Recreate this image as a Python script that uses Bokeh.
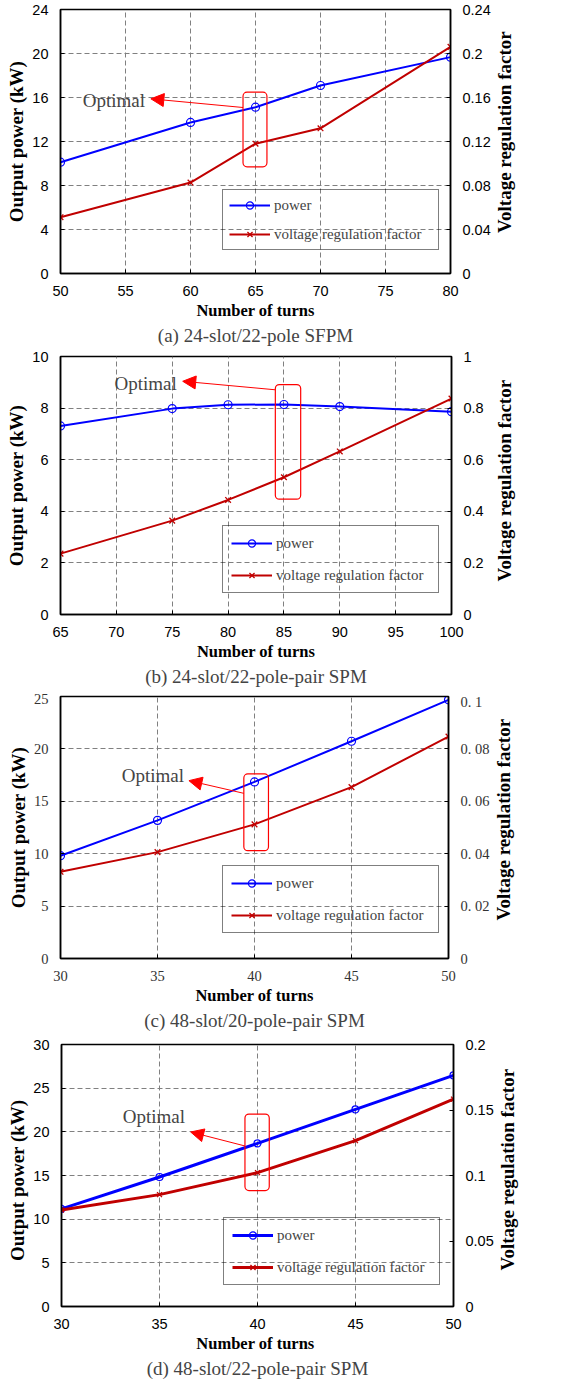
import math
from bokeh.plotting import figure
from bokeh.models import (Range1d, LinearAxis, FixedTicker, Legend, LegendItem,
                          Arrow, NormalHead, Label, Title)
from bokeh.core.properties import value
from bokeh.layouts import column, row
from bokeh.embed import file_html
from bokeh.resources import INLINE

# ---------------- data ----------------
turns_a = [50, 60, 65, 70, 80]
power_a = [10.12, 13.73, 15.12, 17.09, 19.67]
vrf_a = [0.0512, 0.0827, 0.118, 0.132, 0.206]
optimal_a = 65

turns_b = [65, 75, 80, 85, 90, 100]
power_b = [7.31, 7.98, 8.13, 8.14, 8.06, 7.86]
vrf_b = [0.236, 0.364, 0.444, 0.532, 0.632, 0.837]
optimal_b = 85

turns_c = [30, 35, 40, 45, 50]
power_c = [9.81, 13.18, 16.85, 20.73, 24.68]
vrf_c = [0.0331, 0.0406, 0.0512, 0.0654, 0.0847]
optimal_c = 40

turns_d = [30, 35, 40, 45, 50]
power_d = [11.17, 14.83, 18.68, 22.57, 26.46]
vrf_d = [0.0737, 0.0854, 0.1022, 0.1266, 0.1583]
optimal_d = 40

# tick values / labels
x_ticks_a = [50, 55, 60, 65, 70, 75, 80]
y_ticks_a = [0, 4, 8, 12, 16, 20, 24]
r_ticks_a = [0, 0.04, 0.08, 0.12, 0.16, 0.2, 0.24]
r_labels_a = ["0", "0.04", "0.08", "0.12", "0.16", "0.2", "0.24"]

x_ticks_b = [65, 70, 75, 80, 85, 90, 95, 100]
y_ticks_b = [0, 2, 4, 6, 8, 10]
r_ticks_b = [0, 0.2, 0.4, 0.6, 0.8, 1]
r_labels_b = ["0", "0.2", "0.4", "0.6", "0.8", "1"]

x_ticks_c = [30, 35, 40, 45, 50]
y_ticks_c = [0, 5, 10, 15, 20, 25]
r_ticks_c = [0, 0.02, 0.04, 0.06, 0.08, 0.1]
r_labels_c = ["0", "0. 02", "0. 04", "0. 06", "0. 08", "0. 1"]

x_ticks_d = [30, 35, 40, 45, 50]
y_ticks_d = [0, 5, 10, 15, 20, 25, 30]
r_ticks_d = [0, 0.05, 0.1, 0.15, 0.2]
r_labels_d = ["0", "0.05", "0.1", "0.15", "0.2"]

captions = ["(a) 24-slot/22-pole SFPM",
            "(b) 24-slot/22-pole-pair SPM",
            "(c) 48-slot/20-pole-pair SPM",
            "(d) 48-slot/22-pole-pair SPM"]
legend_labels = ["power", "voltage regulation factor"]

BLUE = "#0000ff"
RED = "#c00000"
SERIF = "Liberation Serif"
SANS = "Liberation Sans"
PAGE_W = 587
RIGHT_BORDER = 42
YLABEL_SIZE = "19px"


def make_panel(turns, power, vrf, optimal, xt, yt, rt, rl, caption,
               frame_w, frame_h, left, top, bottom,
               tick_font, tick_color, xlabel, ylabel, rlabel, rlabel_y,
               box_dx, box_y, arrow_start_y, arrow_end, text_pos,
               leg_loc, leg_pad, leg_spacing, lw, msize):
    p = figure(frame_width=frame_w, frame_height=frame_h,
               x_range=Range1d(xt[0], xt[-1]), y_range=Range1d(yt[0], yt[-1]),
               output_backend="svg", toolbar_location=None,
               min_border_left=left, min_border_right=RIGHT_BORDER,
               min_border_top=top, min_border_bottom=bottom)
    p.extra_y_ranges = {"vrf": Range1d(rt[0], rt[-1])}
    p.outline_line_color = "black"
    p.outline_line_width = 1.5
    p.background_fill_color = "white"
    p.border_fill_color = "white"

    for g, t in ((p.xgrid, xt), (p.ygrid, yt)):
        g.ticker = FixedTicker(ticks=t)
        g.grid_line_color = "#808080"
        g.grid_line_dash = "5 3"
        g.grid_line_width = 1

    ax_r = LinearAxis(y_range_name="vrf", ticker=FixedTicker(ticks=rt))
    ax_r.major_label_overrides = dict(zip(rt, rl))
    p.add_layout(ax_r, "right")

    p.xaxis.ticker = FixedTicker(ticks=xt)
    p.yaxis[0].ticker = FixedTicker(ticks=yt)
    for ax in (p.xaxis[0], p.yaxis[0], ax_r):
        ax.axis_line_color = "black"
        ax.axis_line_width = 1.5
        ax.major_tick_in = 4
        ax.major_tick_out = 0
        ax.major_tick_line_color = "black"
        ax.minor_tick_line_color = None
        ax.major_label_text_font = tick_font
        ax.major_label_text_font_size = "14.5px"
        ax.major_label_text_color = tick_color
        ax.major_label_standoff = 12
        ax.axis_label_text_font = SERIF
        ax.axis_label_text_font_style = "bold"
        ax.axis_label_text_color = "black"
        ax.axis_label_standoff = 2
    p.xaxis.axis_label = xlabel
    p.xaxis.axis_label_text_font_size = "16.5px"
    p.yaxis[0].axis_label = ylabel
    p.yaxis[0].axis_label_text_font_size = YLABEL_SIZE

    # data series
    l1 = p.line(turns, power, line_color=BLUE, line_width=lw)
    s1 = p.scatter(turns, power, marker="circle", size=msize, line_color=BLUE,
                   fill_alpha=0, line_width=1.2)
    l2 = p.line(turns, vrf, line_color=RED, line_width=lw, y_range_name="vrf")
    s2 = p.scatter(turns, vrf, marker="x", size=msize, line_color=RED,
                   line_width=1.3, y_range_name="vrf")

    # optimal annotation
    p.quad(left=optimal - box_dx[0], right=optimal + box_dx[1],
           bottom=box_y[0], top=box_y[1], fill_alpha=0,
           line_color="#ff0000", line_width=1.2, border_radius=4)
    p.add_layout(Arrow(end=NormalHead(size=13, fill_color="#ff0000",
                                      line_color="#ff0000"),
                       x_start=optimal - box_dx[0], y_start=arrow_start_y,
                       x_end=arrow_end[0], y_end=arrow_end[1],
                       line_color="#ff0000", line_width=1))
    p.add_layout(Label(x=text_pos[0], y=text_pos[1], text="Optimal",
                       text_font=SERIF, text_font_size="19px",
                       text_align="right", text_baseline="middle"))

    legend = Legend(items=[LegendItem(label=legend_labels[0], renderers=[l1, s1]),
                           LegendItem(label=legend_labels[1], renderers=[l2, s2])],
                    location=leg_loc)
    legend.label_text_font = SERIF
    legend.label_text_font_size = "15px"
    legend.border_line_color = "black"
    legend.border_line_width = 1
    legend.background_fill_alpha = 0
    legend.padding = leg_pad
    legend.spacing = leg_spacing
    legend.margin = 0
    legend.glyph_width = 41
    legend.glyph_height = 18
    legend.label_height = 18
    legend.label_standoff = 4
    legend.label_width = 215 - 2 * leg_pad - 45
    p.add_layout(legend)

    p.add_layout(Title(text=caption, align="center", text_font=SERIF,
                       text_font_size="19px", text_font_style="normal",
                       standoff=1), "below")

    # right-hand axis title (reads bottom-to-top) in a narrow companion figure;
    # its plotting frame lines up with the main frame, so use frame pixels
    height = top + frame_h + bottom
    main_w = left + frame_w + RIGHT_BORDER
    q_w = PAGE_W - main_w
    q = figure(width=q_w, height=height,
               x_range=Range1d(0, q_w), y_range=Range1d(0, frame_h),
               x_axis_type=None, y_axis_type=None,
               output_backend="svg", toolbar_location=None,
               min_border_left=0, min_border_right=0,
               min_border_top=0, min_border_bottom=0)
    q.outline_line_color = None
    q.grid.visible = False
    q.background_fill_color = "white"
    q.border_fill_color = "white"
    q.text(x=[11], y=[rlabel_y - bottom], text=[rlabel], angle=math.pi / 2,
           text_font=value(SERIF), text_font_style="bold",
           text_font_size=YLABEL_SIZE, text_align="left",
           text_baseline="middle", text_color="black")
    return row(p, q, spacing=0)


pa = make_panel(turns_a, power_a, vrf_a, optimal_a, x_ticks_a, y_ticks_a,
                r_ticks_a, r_labels_a, captions[0],
                390, 264, 60, 9, 70, SANS, "black",
                "Number of turns", "Output power (kW)", "Voltage regulation factor", 108,
                (0.96, 0.88), (9.70, 16.48), 15.09, (56.95, 15.88), (56.5, 15.7),
                (162, 23), 6, 11, 2, 8)

pb = make_panel(turns_b, power_b, vrf_b, optimal_b, x_ticks_b, y_ticks_b,
                r_ticks_b, r_labels_b, captions[1],
                391, 258, 60, 10, 79, SANS, "black",
                "Number of turns", "Output power (kW)", "Voltage regulation factor", 112,
                (0.77, 1.5), (4.47, 8.91), 8.71, (75.94, 9.04), (75.4, 8.97),
                (162, 21), 8, 14, 2, 8)

pc = make_panel(turns_c, power_c, vrf_c, optimal_c, x_ticks_c, y_ticks_c,
                r_ticks_c, r_labels_c, captions[2],
                388, 262, 60, 3, 75, SERIF, "#333333",
                "Number of turns", "Output power (kW)", "Voltage regulation factor", 113,
                (0.55, 0.72), (10.29, 17.61), 15.76, (36.62, 16.97), (36.37, 17.42),
                (162, 25), 8, 14, 2, 8)

pd_ = make_panel(turns_d, power_d, vrf_d, optimal_d, x_ticks_d, y_ticks_d,
                 r_ticks_d, r_labels_d, captions[3],
                 392, 262, 61, 11, 86, SANS, "black",
                 "Number  of turns", "Output  power  (kW)", "Voltage  regulation  factor", 122,
                 (0.64, 0.6), (13.27, 22.03), 18.38, (36.59, 19.98), (36.30, 21.73),
                 (162, 21), 8, 14, 3, 7)

layout = column(pa, pb, pc, pd_, spacing=0)
open("out.html", "w").write(file_html(layout, INLINE))
